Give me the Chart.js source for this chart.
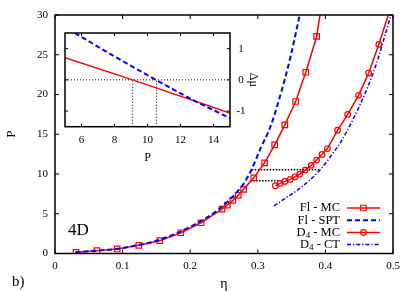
<!DOCTYPE html>
<html><head><meta charset="utf-8">
<script src="https://cdn.jsdelivr.net/npm/chart.js@4"></script>
<style>
html,body{margin:0;padding:0;background:#fff;}
#wrap{position:relative;width:415px;height:291px;overflow:hidden;}
#main{position:absolute;left:0;top:0;width:415px;height:291px;}
#inset{position:absolute;left:62px;top:20px;width:200px;height:150px;}
</style></head><body>
<div id="wrap"><canvas id="main" width="415" height="291"></canvas><canvas id="inset" width="200" height="150"></canvas></div>
<script>
// ---------- data (main panel) ----------
const mainXTicks = [0, 0.1, 0.2, 0.3, 0.4, 0.5];
const mainYTicks = [0, 5, 10, 15, 20, 25, 30];

// Fl - MC (last entry is where the line leaves the frame, no marker)
const flMC_eta = [0.031, 0.062, 0.092, 0.124, 0.155, 0.186, 0.216, 0.247, 0.255, 0.263, 0.271, 0.279, 0.294, 0.310, 0.325, 0.340, 0.356, 0.371, 0.387, 0.392];
const flMC_P   = [0.15, 0.35, 0.57, 1.03, 1.61, 2.61, 3.87, 5.59, 6.09, 6.68, 7.31, 8.07, 9.52, 11.41, 13.67, 16.18, 19.12, 22.8, 27.3, 30.0];

// Fl - SPT
const flSPT_eta = [0.03, 0.06, 0.09, 0.12, 0.15, 0.18, 0.21, 0.24, 0.26, 0.28, 0.291, 0.305, 0.318, 0.333, 0.348, 0.362];
const flSPT_P   = [0.15, 0.35, 0.57, 1.0, 1.6, 2.55, 3.8, 5.4, 6.9, 8.9, 10.6, 13.4, 15.8, 19.8, 24.6, 30.0];

// D4 - MC (last entry is where the line leaves the frame, no marker)
const d4MC_eta = [0.326, 0.333, 0.340, 0.348, 0.355, 0.362, 0.370, 0.379, 0.387, 0.395, 0.403, 0.418, 0.433, 0.449, 0.464, 0.479, 0.493];
const d4MC_P   = [8.52, 8.82, 9.07, 9.32, 9.65, 9.99, 10.49, 11.08, 11.75, 12.45, 13.2, 15.5, 17.5, 19.9, 22.7, 26.3, 30.0];

// D4 - CT
const d4CT_eta = [0.324, 0.340, 0.362, 0.392, 0.411, 0.424, 0.441, 0.461, 0.476, 0.488, 0.499];
const d4CT_P   = [6.0, 6.9, 8.19, 10.5, 12.6, 14.2, 16.9, 20.6, 24.0, 27.4, 30.6];

// coexistence tie lines
const tieUpper_eta = [0.291, 0.391], tieUpper_P = [10.55, 10.55];
const tieLower_eta = [0.293, 0.334], tieLower_P = [9.15, 9.15];

// ---------- data (inset) ----------
const insetXTicks = [6, 8, 10, 12, 14];
const insetYTicks = [-1, 0, 1];
const insetMC_P  = [5, 9.1, 15],   insetMC_mu  = [0.71, 0, -1.06];
const insetSPT_P = [5.6, 7.7, 10.5, 12.8, 15], insetSPT_mu = [1.5, 0.84, 0, -0.66, -1.23];
const insetH_P = [5, 15],       insetH_mu = [0, 0];
const insetV1_P = [9.1, 9.1],   insetV1_mu = [-1.5, 0];
const insetV2_P = [10.55, 10.55], insetV2_mu = [-1.5, 0];

const legendLabels = [['Fl - MC'], ['Fl - SPT'], ['D', '4', ' - MC'], ['D', '4', ' - CT']];

const RED = '#ff0000', BLUE = '#0000ff';
const SERIF = "'Liberation Serif', 'DejaVu Serif', serif";
Chart.defaults.font.family = SERIF;
Chart.defaults.color = '#000';

const xy = (xs, ys) => xs.map((x, i) => ({x, y: ys[i]}));
const lastNoMarker = (arr, r) => arr.map((_, i) => i === arr.length - 1 ? 0 : r);

function frameTicks(len, lw) {
  return {
    id: 'frameTicks',
    afterDatasetsDraw(chart) {
      const {ctx, chartArea: a, scales} = chart;
      ctx.save();
      ctx.strokeStyle = '#000';
      ctx.lineWidth = 1;
      ctx.setLineDash([]);
      ctx.beginPath();
      for (const t of scales.x.ticks) {
        const px = scales.x.getPixelForValue(t.value);
        ctx.moveTo(px, a.bottom); ctx.lineTo(px, a.bottom - len);
        ctx.moveTo(px, a.top); ctx.lineTo(px, a.top + len);
      }
      for (const t of scales.y.ticks) {
        const py = scales.y.getPixelForValue(t.value);
        ctx.moveTo(a.left, py); ctx.lineTo(a.left + len, py);
        ctx.moveTo(a.right, py); ctx.lineTo(a.right - len, py);
      }
      ctx.stroke();
      ctx.lineWidth = lw;
      ctx.strokeRect(a.left, a.top, a.right - a.left, a.bottom - a.top);
      ctx.restore();
    }
  };
}

// ---------- main chart ----------
const mainDatasets = [
  {label: 'Fl - MC', data: xy(flMC_eta, flMC_P), borderColor: RED, borderWidth: 1.5,
   pointStyle: 'rect', pointRadius: lastNoMarker(flMC_eta, 3.9), pointBorderColor: RED,
   pointBackgroundColor: 'rgba(0,0,0,0)', pointBorderWidth: 1.2, order: 3},
  {label: 'Fl - SPT', data: xy(flSPT_eta, flSPT_P), borderColor: BLUE, borderWidth: 2,
   borderDash: [5, 3], pointRadius: 0, cubicInterpolationMode: 'monotone', order: 1},
  {label: 'D4 - MC', data: xy(d4MC_eta, d4MC_P), borderColor: RED, borderWidth: 1.5,
   pointStyle: 'circle', pointRadius: lastNoMarker(d4MC_eta, 2.8), pointBorderColor: RED,
   pointBackgroundColor: 'rgba(0,0,0,0)', pointBorderWidth: 1.2, order: 4},
  {label: 'D4 - CT', data: xy(d4CT_eta, d4CT_P), borderColor: BLUE, borderWidth: 1.5,
   borderDash: [4, 2, 1.2, 2], pointRadius: 0, cubicInterpolationMode: 'monotone', order: 2},
  {label: 'tie1', data: xy(tieUpper_eta, tieUpper_P), borderColor: '#000', borderWidth: 1.5,
   borderDash: [1.5, 1.5], pointRadius: 0, order: 5},
  {label: 'tie2', data: xy(tieLower_eta, tieLower_P), borderColor: '#000', borderWidth: 1.5,
   borderDash: [1.5, 1.5], pointRadius: 0, order: 5}
];
mainDatasets.forEach(d => { d.showLine = true; d.fill = false; });

const mainText = {
  id: 'mainText',
  afterDraw(chart) {
    const ctx = chart.ctx;
    ctx.save();
    ctx.fillStyle = '#000';
    ctx.textBaseline = 'middle';
    ctx.textAlign = 'left';
    ctx.font = '17px ' + SERIF;
    ctx.fillText('4D', 68, 231);
    ctx.font = '15px ' + SERIF;
    ctx.fillText('b)', 12, 282);
    // legend
    const rightX = 340, lx0 = 347, lx1 = 380, rows = [208, 220.3, 232.5, 244.5];
    const big = '12.5px ' + SERIF, small = '9px ' + SERIF;
    legendLabels.forEach((parts, i) => {
      const y = rows[i];
      const widths = parts.map((p, k) => { ctx.font = (parts.length === 3 && k === 1) ? small : big; return ctx.measureText(p).width; });
      let x = rightX - widths.reduce((s, w) => s + w, 0);
      ctx.fillStyle = '#000';
      parts.forEach((p, k) => {
        const sub = parts.length === 3 && k === 1;
        ctx.font = sub ? small : big;
        ctx.fillText(p, x, sub ? y + 3.5 : y);
        x += widths[k];
      });
      const ds = mainDatasets[i];
      ctx.save();
      ctx.strokeStyle = ds.borderColor;
      ctx.lineWidth = ds.borderWidth;
      ctx.setLineDash(ds.borderDash || []);
      ctx.beginPath(); ctx.moveTo(lx0, y); ctx.lineTo(lx1, y); ctx.stroke();
      ctx.setLineDash([]);
      if (ds.pointStyle) {
        ctx.fillStyle = 'rgba(0,0,0,0)';
        ctx.strokeStyle = ds.pointBorderColor;
        ctx.lineWidth = ds.pointBorderWidth;
        Chart.helpers.drawPoint(ctx, {pointStyle: ds.pointStyle, radius: ds.pointStyle === 'rect' ? 3.9 : 2.8,
          borderWidth: ds.pointBorderWidth, rotation: 0}, (lx0 + lx1) / 2, y);
      }
      ctx.restore();
    });
    ctx.restore();
  }
};

new Chart(document.getElementById('main'), {
  type: 'scatter',
  data: {datasets: mainDatasets},
  options: {
    responsive: false, animation: false, devicePixelRatio: 1, events: [],
    layout: {padding: {left: 0, right: 22, top: 15, bottom: 0}},
    plugins: {legend: {display: false}, tooltip: {enabled: false}},
    scales: {
      x: {type: 'linear', min: 0, max: 0.5,
        afterBuildTicks: s => { s.ticks = mainXTicks.map(v => ({value: v})); },
        afterFit: s => { s.height = 37.5; },
        grid: {display: false, drawTicks: false}, border: {display: false},
        ticks: {padding: 6.5, font: {size: 11}, color: '#000', callback: v => String(v), maxRotation: 0, autoSkip: false},
        title: {display: true, text: 'η', font: {size: 14, lineHeight: 1}, padding: 0, color: '#000'}},
      y: {type: 'linear', min: 0, max: 30,
        afterBuildTicks: s => { s.ticks = mainYTicks.map(v => ({value: v})); },
        afterFit: s => { s.width = 55; },
        grid: {display: false, drawTicks: false}, border: {display: false},
        ticks: {padding: 7, font: {size: 11}, color: '#000', autoSkip: false},
        title: {display: true, text: 'P', font: {size: 13, lineHeight: 1.2}, padding: {top: 4, bottom: 0}, color: '#000'}}
    }
  },
  plugins: [frameTicks(4, 1.5), mainText]
});

// ---------- inset chart ----------
const insetDatasets = [
  {label: 'insetH', data: xy(insetH_P, insetH_mu), borderColor: '#000', borderWidth: 1, borderDash: [1, 2], order: 3},
  {label: 'insetV1', data: xy(insetV1_P, insetV1_mu), borderColor: '#000', borderWidth: 1, borderDash: [1, 2], order: 3},
  {label: 'insetV2', data: xy(insetV2_P, insetV2_mu), borderColor: '#000', borderWidth: 1, borderDash: [1, 2], order: 3},
  {label: 'Fl - MC', data: xy(insetMC_P, insetMC_mu), borderColor: RED, borderWidth: 1.5, order: 2},
  {label: 'Fl - SPT', data: xy(insetSPT_P, insetSPT_mu), borderColor: BLUE, borderWidth: 2, borderDash: [5, 3], order: 1}
];
insetDatasets.forEach(d => { d.showLine = true; d.fill = false; d.pointRadius = 0; });

const insetBg = {
  id: 'insetBg',
  beforeDraw(chart) {
    const {ctx, chartArea: a} = chart;
    ctx.save(); ctx.fillStyle = '#fff';
    ctx.fillRect(a.left, a.top, a.right - a.left, a.bottom - a.top);
    ctx.restore();
  }
};

new Chart(document.getElementById('inset'), {
  type: 'scatter',
  data: {datasets: insetDatasets},
  options: {
    responsive: false, animation: false, devicePixelRatio: 1, events: [],
    layout: {padding: {left: 3, right: 0, top: 4, bottom: 0}},
    plugins: {legend: {display: false}, tooltip: {enabled: false}},
    scales: {
      x: {type: 'linear', min: 5, max: 15,
        afterBuildTicks: s => { s.ticks = insetXTicks.map(v => ({value: v})); },
        afterFit: s => { s.height = 43.3; },
        grid: {display: false, drawTicks: false}, border: {display: false},
        ticks: {padding: 6.5, font: {size: 11}, color: '#000', maxRotation: 0, autoSkip: false},
        title: {display: true, text: 'P', font: {size: 12, lineHeight: 1}, padding: {top: 0, bottom: 5.7}, color: '#000'}},
      y: {type: 'linear', position: 'right', min: -1.5, max: 1.5,
        afterBuildTicks: s => { s.ticks = insetYTicks.map(v => ({value: v})); },
        afterFit: s => { s.width = 32; },
        grid: {display: false, drawTicks: false}, border: {display: false},
        ticks: {padding: 6.4, font: {size: 11}, color: '#000', crossAlign: 'center', autoSkip: false},
        title: {display: true, text: 'Δμ', font: {size: 12, lineHeight: 1}, padding: {top: 3, bottom: 0}, color: '#000'}}
    }
  },
  plugins: [insetBg, frameTicks(3, 1.5)]
});
</script>
</body></html>
